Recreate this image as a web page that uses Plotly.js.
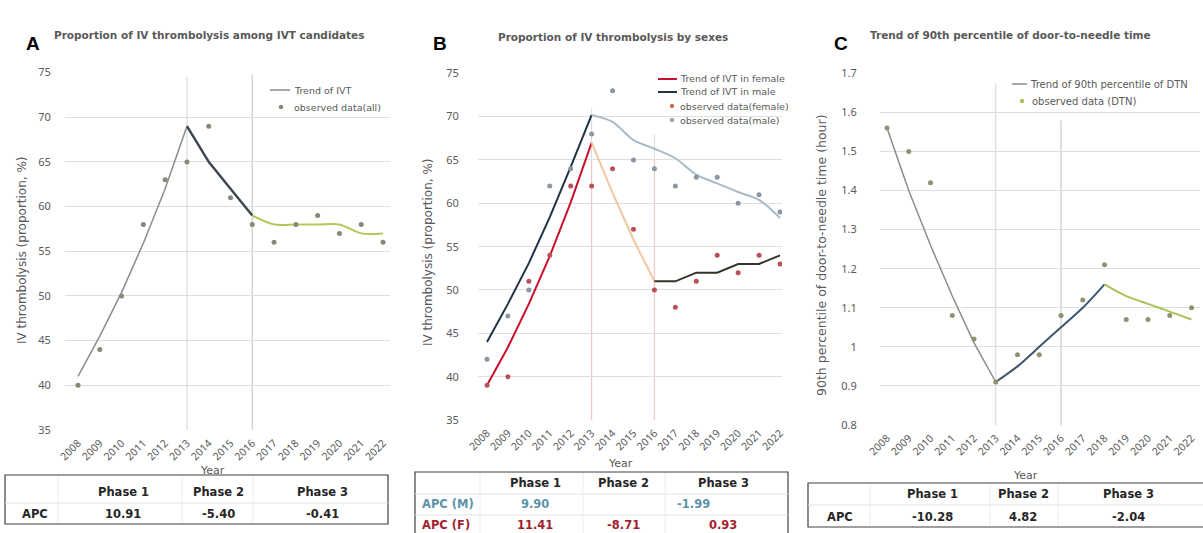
<!DOCTYPE html>
<html><head><meta charset="utf-8">
<script src="https://cdn.plot.ly/plotly-3.0.1.min.js"></script>
<style>html,body{margin:0;padding:0;background:#fff}#chart{width:1203px;height:533px}</style>
</head><body><div id="chart"></div>
<script>
// ---------- data ----------
const years = [2008,2009,2010,2011,2012,2013,2014,2015,2016,2017,2018,2019,2020,2021,2022];

// Panel A
const A_observed = [40,44,50,58,63,65,69,61,58,56,58,59,57,58,56];
const A_p1_years = [2008,2009,2010,2011,2012,2013];
const A_p1_trend = [41,45.5,50.4,55.9,62,69];
const A_p2_years = [2013,2014,2015,2016];
const A_p2_trend = [69,65,62,59];
const A_p3_years = [2016,2017,2018,2019,2020,2021,2022];
const A_p3_trend = [59,58,58,58,58,57,57];

// Panel B
const B_female_obs = [39,40,51,54,62,62,64,57,50,48,51,54,52,54,53];
const B_male_obs   = [42,47,50,62,64,68,73,65,64,62,63,63,60,61,59];
const B_f_p1_years = [2008,2009,2010,2011,2012,2013];
const B_f_p1_trend = [39,43.4,48.4,53.9,60.1,67];
const B_f_p2_years = [2013,2014,2015,2016];
const B_f_p2_trend = [67,61.2,55.8,51];
const B_f_p3_years = [2016,2017,2018,2019,2020,2021,2022];
const B_f_p3_trend = [51,51,52,52,53,53,54];
const B_m_p1_years = [2008,2009,2010,2011,2012,2013];
const B_m_p1_trend = [44,48.4,53.1,58.4,64.2,70.2];
const B_m_p23_years = [2013,2014,2015,2016,2017,2018,2019,2020,2021,2022];
const B_m_p23_trend = [70.2,69.4,67.3,66.3,65.2,63.3,62.3,61.3,60.4,58.3];

// Panel C
const C_observed = [1.56,1.50,1.42,1.08,1.02,0.91,0.98,0.98,1.08,1.12,1.21,1.07,1.07,1.08,1.10];
const C_p1_years = [2008,2009,2010,2011,2012,2013];
const C_p1_trend = [1.56,1.40,1.26,1.13,1.01,0.91];
const C_p2_years = [2013,2014,2015,2016,2017,2018];
const C_p2_trend = [0.91,0.95,1.00,1.05,1.10,1.16];
const C_p3_years = [2018,2019,2020,2021,2022];
const C_p3_trend = [1.16,1.13,1.11,1.09,1.07];

// Tables
const phaseLabels = ['Phase 1','Phase 2','Phase 3'];
const A_apc = ['10.91','-5.40','-0.41'];
const B_apc_m = ['9.90','','-1.99'];
const B_apc_f = ['11.41','-8.71','0.93'];
const C_apc = ['-10.28','4.82','-2.04'];

const yTicksAB = [35,40,45,50,55,60,65,70,75];
const yTicksC = [0.8,0.9,1,1.1,1.2,1.3,1.4,1.5,1.6,1.7];
const yTicksCText = ['0.8','0.9','1','1.1','1.2','1.3','1.4','1.5','1.6','1.7'];

// ---------- helpers ----------
const W = 1203, H = 533;
const px = x => x / W;
const py = y => 1 - y / H;
const FONT = 'DejaVu Sans, Noto Sans, sans-serif';
const NOTO = 'Noto Sans, Open Sans, sans-serif';
const GRAY = '#595959';

function line(xs, ys, color, width, ax, shape) {
  return {x: xs, y: ys, type: 'scatter', mode: 'lines', xaxis: ax[0], yaxis: ax[1],
    line: {color: color, width: width, shape: shape || 'linear', smoothing: 0.8}, hoverinfo: 'skip'};
}
function pts(xs, ys, color, ax) {
  return {x: xs, y: ys, type: 'scatter', mode: 'markers', xaxis: ax[0], yaxis: ax[1],
    marker: {color: color, size: 5, symbol: 'circle'}, hoverinfo: 'skip'};
}

const axA = ['x','y'], axB = ['x2','y2'], axC = ['x3','y3'];

const traces = [
  // A
  line(A_p1_years, A_p1_trend, '#8c8c8c', 1.5, axA),
  line(A_p2_years, A_p2_trend, '#3f4752', 2.5, axA),
  line(A_p3_years, A_p3_trend, '#b2c85a', 2, axA, 'spline'),
  pts(years, A_observed, '#87877a', axA),
  // B
  line(B_m_p1_years, B_m_p1_trend, '#1f3347', 2, axB),
  line(B_m_p23_years, B_m_p23_trend, '#a7bccb', 2, axB, 'spline'),
  line(B_f_p1_years, B_f_p1_trend, '#c8102e', 2, axB),
  line(B_f_p2_years, B_f_p2_trend, '#f2c6a0', 2, axB),
  line(B_f_p3_years, B_f_p3_trend, '#33332a', 2, axB),
  pts(years, B_female_obs, '#b8525a', axB),
  pts(years, B_male_obs, '#8a96a4', axB),
  // C
  line(C_p1_years, C_p1_trend, '#8c8c8c', 1.5, axC),
  line(C_p2_years, C_p2_trend, '#3e5570', 2, axC, 'spline'),
  line(C_p3_years, C_p3_trend, '#a9c455', 2, axC, 'spline'),
  pts(years, C_observed, '#8e9270', axC)
];

function xAxis(domainPx, range) {
  return {domain: [px(domainPx[0]), px(domainPx[1])], range: range, tickvals: years,
    ticktext: years.map(String), tickangle: -45, tickfont: {family: NOTO, size: 10.5, color: GRAY},
    showgrid: false, zeroline: false, showline: false, ticks: 'outside', ticklen: 2,
    tickcolor: 'rgba(0,0,0,0)', fixedrange: true};
}
function yAxis(domainPx, range, tickvals, ticktext, anchor, standoff) {
  return {domain: [py(domainPx[1]), py(domainPx[0])], range: range, tickvals: tickvals,
    ticktext: ticktext, tickfont: {family: NOTO, size: 11, color: GRAY}, showgrid: true,
    gridcolor: '#dedede', gridwidth: 1, zeroline: false, showline: false, ticks: 'outside',
    ticklen: standoff, tickcolor: 'rgba(0,0,0,0)', anchor: anchor, fixedrange: true};
}

const layout = {
  width: W, height: H, margin: {l: 0, r: 0, t: 0, b: 0}, showlegend: false,
  paper_bgcolor: '#fff', plot_bgcolor: '#fff', font: {family: FONT, color: GRAY},
  xaxis: Object.assign(xAxis([65, 389.5], [2007.403, 2022.298]), {anchor: 'y'}),
  yaxis: yAxis([72.5, 430], [35, 75], yTicksAB, yTicksAB.map(String), 'x', 11),
  xaxis2: Object.assign(xAxis([478, 782], [2007.57, 2022.096]), {anchor: 'y2'}),
  yaxis2: yAxis([73.3, 420], [35, 75], yTicksAB, yTicksAB.map(String), 'x2', 16),
  xaxis3: Object.assign(xAxis([880, 1200], [2007.678, 2022.39]), {anchor: 'y3'}),
  yaxis3: yAxis([73.3, 425], [0.8, 1.7], yTicksC, yTicksCText, 'x3', 20),
  shapes: [], annotations: []
};

const S = layout.shapes, AN = layout.annotations;
function vline(xr, yr, x, y0, y1, color, w) {
  S.push({type: 'line', xref: xr, yref: yr, x0: x, x1: x, y0: y0, y1: y1, line: {color: color, width: w || 1}, layer: 'below'});
}
// phase boundary lines
vline('x','y',2013,35,74.5,'#d4d4d4',1);
vline('x','y',2016,35,74.8,'#d4d4d4',1.5);
vline('x2','y2',2013,35,71,'#dcdcdc',1);
vline('x2','y2',2016,35,68,'#dcdcdc',1);
vline('x2','y2',2013,35,65,'#f3c4c4',1);
vline('x2','y2',2016,35,65,'#f3c4c4',1);
vline('x3','y3',2013,0.8,1.675,'#d4d4d4',1);
vline('x3','y3',2016,0.8,1.58,'#d4d4d4',1.5);

function txt(x, y, text, opts) {
  AN.push(Object.assign({xref: 'paper', yref: 'paper', x: px(x), y: py(y), text: text, showarrow: false,
    xanchor: 'center', yanchor: 'middle', font: {family: FONT, size: 10, color: GRAY}}, opts || {}));
}
function pline(x0, x1, y, color, w) {
  S.push({type: 'line', xref: 'paper', yref: 'paper', x0: px(x0), x1: px(x1), y0: py(y), y1: py(y), line: {color: color, width: w}});
}
function pvline(x, y0, y1, color, w) {
  S.push({type: 'line', xref: 'paper', yref: 'paper', x0: px(x), x1: px(x), y0: py(y0), y1: py(y1), line: {color: color, width: w}});
}
function pdot(x, y, color) {
  S.push({type: 'circle', xref: 'paper', yref: 'paper', x0: px(x - 2.2), x1: px(x + 2.2), y0: py(y + 2.2), y1: py(y - 2.2), fillcolor: color, line: {width: 0}});
}
function prect(x0, y0, x1, y1) {
  S.push({type: 'rect', xref: 'paper', yref: 'paper', x0: px(x0), x1: px(x1), y0: py(y1), y1: py(y0), line: {color: '#404040', width: 1.2}, fillcolor: 'rgba(0,0,0,0)'});
}

const TTL = {family: FONT, size: 10.5, color: GRAY};
const LET = {family: 'Liberation Sans, Arial, sans-serif', size: 19, color: '#000'};
// panel letters & titles
txt(33, 43, '<b>A</b>', {font: LET});
txt(52, 35, '<b>Proportion of IV thrombolysis among IVT candidates</b>', {xanchor: 'left', font: TTL});
txt(440, 43, '<b>B</b>', {font: LET});
txt(496, 37, '<b>Proportion of IV thrombolysis by sexes</b>', {xanchor: 'left', font: TTL});
txt(841, 43, '<b>C</b>', {font: LET});
txt(868, 35, '<b>Trend of 90th percentile of door-to-needle time</b>', {xanchor: 'left', font: TTL});

// axis titles
const AXT = {family: FONT, size: 12, color: GRAY};
txt(22, 250, 'IV thrombolysis (proportion, %)', {textangle: -90, font: AXT});
txt(428, 252, 'IV thrombolysis (proportion, %)', {textangle: -90, font: AXT});
txt(822, 255, '90th percentile of door-to-needle time (hour)', {textangle: -90, font: {family: FONT, size: 12.5, color: GRAY}});
txt(212, 470, 'Year', {font: {family: FONT, size: 11, color: GRAY}});
txt(620, 463, 'Year', {font: {family: FONT, size: 11, color: GRAY}});
txt(1025, 475, 'Year', {font: {family: FONT, size: 11, color: GRAY}});

// legends
const LG = {family: FONT, size: 9.5, color: GRAY};
pline(270, 290, 90, '#8c8c8c', 1.5);
txt(292, 90, 'Trend of IVT', {xanchor: 'left', font: LG});
pdot(281, 107, '#87877a');
txt(292, 107, 'observed data(all)', {xanchor: 'left', font: LG});

pline(658, 677, 79, '#c8102e', 2);
txt(678, 79, 'Trend of IVT in female', {xanchor: 'left', font: LG});
pline(658, 677, 92, '#1f3347', 2);
txt(678, 92, 'Trend of IVT in male', {xanchor: 'left', font: LG});
pdot(672, 106, '#d0704a');
txt(678, 106, 'observed data(female)', {xanchor: 'left', font: LG});
pdot(672, 120, '#9aa6b4');
txt(678, 120, 'observed data(male)', {xanchor: 'left', font: LG});

const LGC = {family: FONT, size: 10, color: GRAY};
pline(1012, 1027, 84, '#8c8c8c', 1.5);
txt(1028, 84, 'Trend of 90th percentile of DTN', {xanchor: 'left', font: LGC});
pdot(1022, 101, '#b4bc5a');
txt(1030, 101, 'observed data (DTN)', {xanchor: 'left', font: LGC});

// tables
const TF = (c) => ({family: FONT, size: 11.5, color: c || '#262626'});
// A
prect(5, 475, 388, 524);
pline(5, 388, 503, '#e2e2e2', 1);
[58, 182, 253].forEach(x => pvline(x, 476, 523, '#ececec', 1));
const A_cols = [123, 218, 322];
phaseLabels.forEach((p, i) => txt(A_cols[i], 492, '<b>' + p + '</b>', {font: TF()}));
txt(20, 514, '<b>APC</b>', {xanchor: 'left', font: TF()});
A_apc.forEach((v, i) => txt(A_cols[i], 514, '<b>' + v + '</b>', {font: TF()}));
// B
prect(415, 472, 788, 545);
pline(415, 788, 494, '#e2e2e2', 1);
pline(415, 788, 515, '#e2e2e2', 1);
[480, 583, 665].forEach(x => pvline(x, 473, 533, '#ececec', 1));
const B_cols = [535, 623, 723];
phaseLabels.forEach((p, i) => txt(B_cols[i], 483, '<b>' + p + '</b>', {font: TF()}));
const MC = '#5b93a8', FC = '#a31f2e';
txt(420, 504, '<b>APC (M)</b>', {xanchor: 'left', font: TF(MC)});
txt(B_cols[0], 504, '<b>' + B_apc_m[0] + '</b>', {font: TF(MC)});
txt(693, 504, '<b>' + B_apc_m[2] + '</b>', {font: TF(MC)});
txt(420, 525, '<b>APC (F)</b>', {xanchor: 'left', font: TF(FC)});
B_apc_f.forEach((v, i) => txt(B_cols[i], 525, '<b>' + v + '</b>', {font: TF(FC)}));
// C
prect(808, 483, 1210, 527);
pline(808, 1203, 505, '#e2e2e2', 1);
[870, 990, 1058].forEach(x => pvline(x, 484, 526, '#ececec', 1));
const C_cols = [932, 1023, 1128];
phaseLabels.forEach((p, i) => txt(C_cols[i], 494, '<b>' + p + '</b>', {font: TF()}));
txt(825, 517, '<b>APC</b>', {xanchor: 'left', font: TF()});
C_apc.forEach((v, i) => txt(C_cols[i], 517, '<b>' + v + '</b>', {font: TF()}));

Plotly.newPlot('chart', traces, layout, {staticPlot: true, displayModeBar: false});
</script></body></html>
